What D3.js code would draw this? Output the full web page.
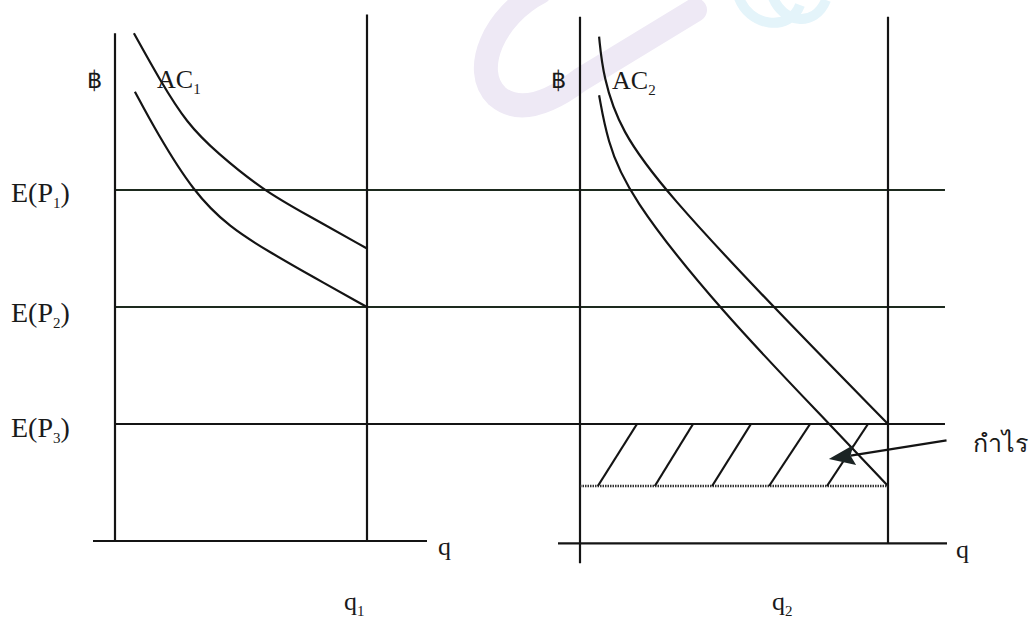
<!DOCTYPE html>
<html>
<head>
<meta charset="utf-8">
<script src="https://cdn.jsdelivr.net/npm/d3@7"></script>
<style>
  body { margin: 0; background: #fff; }
  svg { display: block; }
  text { font-family: "Liberation Serif", "Times New Roman", serif; fill: #1a1a1a; }
  .thai { font-family: "Noto Sans", "DejaVu Sans", sans-serif; }
</style>
</head>
<body>
<svg id="chart"></svg>
<script>
// price levels (horizontal lines), from high to low
var priceLevels = [3, 2, 1];
var priceNames = ["1", "2", "3"];   // subscripts of E(P)

// AC curves, [q, price]; q = 1 is q1 / q2
var ac1Upper = [[0.075, 4.34], [0.178, 3.94], [0.285, 3.57], [0.403, 3.32], [0.593, 2.99], [0.759, 2.79], [1.0, 2.5]];
var ac1Lower = [[0.079, 3.84], [0.166, 3.49], [0.312, 2.98], [0.455, 2.68], [0.613, 2.47], [0.783, 2.26], [1.0, 2.0]];
var ac2Upper = [[0.062, 4.31], [0.075, 3.97], [0.130, 3.51], [0.282, 2.97], [0.627, 2.0], [1.0, 1.0]];
var ac2Lower = [[0.062, 3.81], [0.088, 3.43], [0.153, 2.97], [0.455, 1.97], [0.821, 0.97], [1.0, 0.47]];

// profit area (hatched) in panel 2
var profitTop = 1.0, profitBottom = 0.47;
var hatchBottomQ = [0.058, 0.243, 0.429, 0.614, 0.802];
var hatchTopQ    = [0.185, 0.367, 0.555, 0.747, 0.935];

// arrow pointing at profit area: [q, price]
var arrowFrom = [1.19, 0.86], arrowTo = [0.808, 0.70];

function init() {
  var W = 1035, H = 624;
  var svg = d3.select("#chart").attr("width", W).attr("height", H);
  var ink = "#141414", greenInk = "#1d2a1e";

  // Scales
  var y = d3.scaleLinear().domain([0, 1]).range([541, 424]);
  var x1 = d3.scaleLinear().domain([0, 1]).range([115, 367]);
  var x2 = d3.scaleLinear().domain([0, 1]).range([580, 888]);

  // watermark (faint logo at the top)
  var wm = svg.append("g").attr("class", "watermark");
  wm.append("path")
    .attr("d", "M 540 -8 C 495 15, 470 70, 497 96 C 518 114, 548 104, 580 80 L 695 10")
    .attr("fill", "none").attr("stroke", "#eee9f5").attr("stroke-width", 24).attr("stroke-linecap", "round");
  wm.append("path")
    .attr("d", "M 738 -5 C 748 28, 790 32, 800 5 M 772 -5 C 782 24, 815 28, 826 0")
    .attr("fill", "none").attr("stroke", "#e4f4fa").attr("stroke-width", 10);

  function line(x1a, y1a, x2a, y2a, color, w) {
    svg.append("line")
       .attr("x1", x1a).attr("y1", y1a).attr("x2", x2a).attr("y2", y2a)
       .attr("stroke", color || ink).attr("stroke-width", w || 2.2);
  }

  // Price lines across both panels
  svg.selectAll("priceLines")
     .data(priceLevels)
     .enter()
     .append("line")
     .attr("x1", x1(0)).attr("x2", x2(1.185))
     .attr("y1", function(d) { return y(d); })
     .attr("y2", function(d) { return y(d); })
     .attr("stroke", function(d, i) { return i < 2 ? greenInk : ink; })
     .attr("stroke-width", 2.2);

  // E(P) labels
  var lab = svg.selectAll("priceLabels")
     .data(priceLevels)
     .enter()
     .append("text")
     .attr("x", 11)
     .attr("y", function(d, i) { return y(d) + [12, 15, 13][i]; })
     .style("font-size", "28px");
  lab.append("tspan").text("E(P");
  lab.append("tspan").text(function(d, i) { return priceNames[i]; })
     .attr("dy", 6).style("font-size", "15px");
  lab.append("tspan").text(")").attr("dy", -6);

  // Panel 1 axes
  line(x1(0), y(4.34), x1(0), y(0));
  line(x1(1), y(4.5), x1(1), y(0));
  line(93, y(0), 427, y(0));
  // Panel 2 axes
  line(x2(0), y(4.48), x2(0), y(-0.19));
  line(x2(1), y(4.48), x2(1), y(-0.02));
  line(558, y(-0.02), 947, y(-0.02));

  // Curves
  var curve1 = d3.line().x(function(d) { return x1(d[0]); }).y(function(d) { return y(d[1]); }).curve(d3.curveBasis);
  var curve2 = d3.line().x(function(d) { return x2(d[0]); }).y(function(d) { return y(d[1]); }).curve(d3.curveBasis);
  [ac1Upper, ac1Lower].forEach(function(c) {
    svg.append("path").attr("d", curve1(c)).attr("fill", "none").attr("stroke", ink).attr("stroke-width", 2.2);
  });
  [ac2Upper, ac2Lower].forEach(function(c) {
    svg.append("path").attr("d", curve2(c)).attr("fill", "none").attr("stroke", ink).attr("stroke-width", 2.2);
  });

  // Profit area: dotted bottom edge + hatching
  svg.append("line")
     .attr("x1", x2(0)).attr("x2", x2(1))
     .attr("y1", y(profitBottom)).attr("y2", y(profitBottom))
     .attr("stroke", "#333").attr("stroke-width", 2.5).attr("stroke-dasharray", "1.5,1");
  svg.selectAll("hatch")
     .data(hatchBottomQ)
     .enter()
     .append("line")
     .attr("x1", function(d) { return x2(d); })
     .attr("y1", y(profitBottom))
     .attr("x2", function(d, i) { return x2(hatchTopQ[i]); })
     .attr("y2", y(profitTop))
     .attr("stroke", ink).attr("stroke-width", 2.2);

  // Arrow
  var ax0 = x2(arrowFrom[0]), ay0 = y(arrowFrom[1]), ax1 = x2(arrowTo[0]), ay1 = y(arrowTo[1]);
  var ang = Math.atan2(ay1 - ay0, ax1 - ax0);
  var headLen = 26, headW = 10;
  var bx = ax1 - headLen * Math.cos(ang), by = ay1 - headLen * Math.sin(ang);
  line(ax0, ay0, bx + 4 * Math.cos(ang), by + 4 * Math.sin(ang), ink, 2.2);
  svg.append("path")
     .attr("d", "M " + ax1 + " " + ay1 +
                " L " + (bx - headW * Math.sin(ang)) + " " + (by + headW * Math.cos(ang)) +
                " L " + (bx + 4 * Math.cos(ang)) + " " + (by + 4 * Math.sin(ang)) +
                " L " + (bx + headW * Math.sin(ang)) + " " + (by - headW * Math.cos(ang)) + " Z")
     .attr("fill", "#1b2424");

  // Texts
  svg.append("text").text("\u0E3F").attr("x", 87).attr("y", 88).style("font-size", "24px");
  svg.append("text").text("\u0E3F").attr("x", 551).attr("y", 88).style("font-size", "24px");

  function acLabel(xp, yp, sub) {
    var t = svg.append("text").attr("x", xp).attr("y", yp).style("font-size", "26px");
    t.append("tspan").text("AC");
    t.append("tspan").text(sub).attr("dy", 6).style("font-size", "15px");
  }
  acLabel(157, 88, "1");
  acLabel(612, 89, "2");

  svg.append("text").text("q").attr("x", 438).attr("y", 555).style("font-size", "26px");
  svg.append("text").text("q").attr("x", 956).attr("y", 558).style("font-size", "26px");

  function qLabel(xp, yp, sub) {
    var t = svg.append("text").attr("x", xp).attr("y", yp).style("font-size", "26px");
    t.append("tspan").text("q");
    t.append("tspan").text(sub).attr("dy", 6).style("font-size", "15px");
  }
  qLabel(344, 610, "1");
  qLabel(772, 610, "2");

  svg.append("text").attr("class", "thai").text("กำไร")
     .attr("x", 973).attr("y", 452).style("font-size", "25px");
}

init();
</script>
</body>
</html>
